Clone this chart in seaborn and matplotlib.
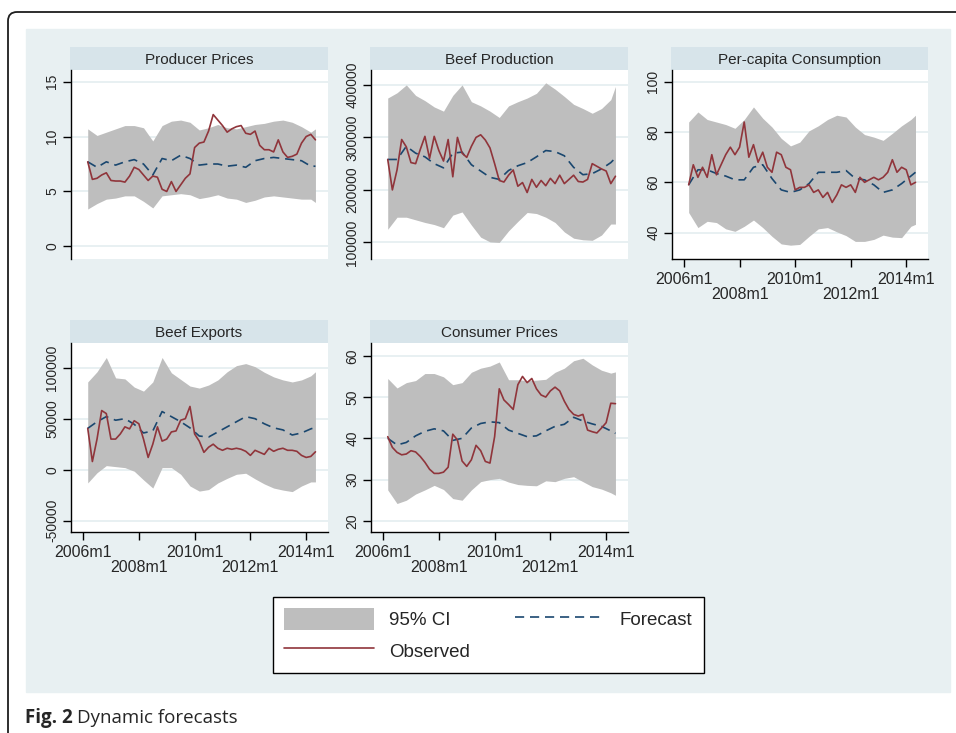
import numpy as np
import matplotlib
matplotlib.use('Agg')
import matplotlib.pyplot as plt
import seaborn as sns
from matplotlib.patches import Patch, Rectangle, FancyBboxPatch
from matplotlib.lines import Line2D
from matplotlib.transforms import IdentityTransform

sns.set_style('white')
plt.rcParams['font.family'] = ['Liberation Sans', 'DejaVu Sans']

# x positions: months since 2006m1
months_obs = np.arange(2, 101, 2)
months_fc = np.r_[np.arange(2, 99, 4), 100]
xtick_pos = [0, 24, 48, 72, 96]
xtick_labels = ['2006m1', '\n2008m1', '2010m1', '\n2012m1', '2014m1']

# Producer Prices
pp_obs = [7.7, 6.1, 6.2, 6.5, 6.7, 6.0, 5.95, 5.95, 5.85, 6.4,
          7.2, 7.0, 6.5, 6.0, 6.4, 6.3, 5.2, 5.0, 5.9, 5.0,
          5.6, 6.2, 6.6, 9.0, 9.4, 9.5, 10.5, 12.0, 11.5, 11.0,
          10.4, 10.7, 10.9, 11.0, 10.3, 10.2, 10.5, 9.2, 8.8, 8.8,
          8.6, 9.7, 8.6, 8.1, 8.2, 8.4, 9.4, 10.0, 10.2, 9.7]
pp_fc = [7.7, 7.2, 7.7, 7.4, 7.7, 7.9, 7.5, 6.5, 8.0, 7.8, 8.3, 8.0, 7.4,
         7.5, 7.5, 7.3, 7.4, 7.2, 7.8, 8.0, 8.1, 8.0, 7.9, 7.8, 7.3, 7.3]
pp_hi = [10.7, 10.1, 10.4, 10.7, 11.0, 11.0, 10.8, 9.6, 11.0, 11.4, 11.5, 11.3, 10.6,
         10.8, 11.1, 10.8, 10.7, 10.9, 11.1, 11.2, 11.4, 11.5, 11.3, 10.9, 10.4, 10.7]
pp_lo = [3.4, 3.9, 4.3, 4.4, 4.6, 4.6, 4.1, 3.5, 4.6, 4.7, 4.8, 4.7, 4.35,
         4.5, 4.7, 4.4, 4.3, 4.0, 4.2, 4.5, 4.6, 4.5, 4.4, 4.3, 4.3, 4.0]

# Beef Production (thousands)
bp_obs = [258, 200, 238, 296, 282, 252, 250, 277, 302, 260,
          302, 275, 255, 296, 225, 300, 270, 262, 283, 300,
          305, 295, 280, 250, 218, 215, 228, 238, 207, 214,
          195, 220, 205, 218, 208, 222, 212, 228, 212, 220,
          228, 216, 215, 220, 250, 245, 240, 236, 212, 226]
bp_fc = [258, 258, 283, 270, 263, 250, 242, 270, 272, 248, 236, 224, 220,
         237, 246, 252, 263, 275, 273, 265, 243, 229, 231, 240, 252, 261]
bp_hi = [375, 385, 400, 380, 370, 358, 350, 380, 400, 368, 360, 350, 338,
         360, 368, 375, 384, 404, 392, 378, 363, 355, 346, 355, 372, 397]
bp_lo = [125, 148, 148, 143, 138, 134, 128, 152, 158, 133, 110, 101, 100,
         122, 140, 157, 155, 148, 138, 120, 108, 105, 104, 114, 135, 135]

# Per-capita Consumption
pc_obs = [59, 67, 62, 66, 62, 71, 63, 67, 71, 74,
          71, 74, 84, 70, 75, 68, 72, 66, 64, 72,
          71, 66, 65, 57, 58, 58, 59, 56, 57, 54,
          56, 52, 55, 59, 58, 59, 56, 62, 60, 61,
          62, 61, 62, 64, 69, 64, 66, 65, 59, 60]
pc_fc = [59, 65, 65, 63.5, 62.5, 61, 61, 66, 67, 61.5, 57, 56, 57,
         59.5, 64, 64, 64, 64.7, 61.5, 61, 59, 56, 57, 59.5, 62.5, 64]
pc_hi = [84, 88, 85, 84, 83, 81.5, 85, 90, 85.5, 82, 77.5, 74.5, 76,
         80.5, 82.5, 85, 86.7, 86, 82, 79, 78, 76.7, 79.5, 82.5, 85, 86.7]
pc_lo = [48, 42, 44.5, 44, 41.5, 40.5, 42.5, 45, 42, 38.5, 35.5, 35, 35.3,
         38.5, 41.5, 42, 40.3, 38.8, 36.5, 36.5, 37.3, 39, 38.2, 38, 42.5, 43.3]

# Beef Exports (thousands)
be_obs = [40.5, 8, 30, 58, 55, 30, 30, 35, 42, 40,
          48, 45, 30, 12, 25, 42, 28, 30, 37, 38,
          48.5, 50, 62, 35, 28, 17, 22, 25, 21, 19,
          21, 20, 21, 20, 18, 14, 19, 17, 15, 21,
          18, 20, 21, 19, 19, 18, 14, 12, 13, 17.5]
be_fc = [40.5, 47, 52, 48.5, 50, 44.5, 36, 38, 57, 52, 47, 41, 33,
         32, 37, 42, 47, 52, 50, 45, 41, 39, 34, 36, 40, 41.5]
be_hi = [86, 96, 110, 90, 89, 81, 77, 86, 110, 95, 88.5, 82, 80,
         83, 88, 96, 102, 104, 101, 95.5, 91, 88, 86, 88, 92, 96]
be_lo = [-13, -3, 4, 3, 2, -1.5, -10, -18, 2, 2, -4.5, -16, -21,
         -19.5, -13, -8.5, -4.5, -3.5, -9, -14, -18, -20, -21.5, -16, -12, -12]

# Consumer Prices
cp_obs = [40.4, 37.8, 36.6, 36.0, 36.2, 37.0, 36.7, 35.6, 34.2, 32.5,
          31.5, 31.5, 31.8, 33.0, 41.0, 39.6, 34.5, 33.2, 34.8, 38.3,
          37.0, 34.4, 34.0, 40.4, 52.0, 49.3, 48.2, 47.0, 53.0, 55.0,
          53.5, 54.5, 52.0, 50.5, 50.0, 51.5, 52.4, 51.5, 49.0, 47.0,
          45.8, 45.4, 45.8, 42.0, 41.6, 41.3, 42.5, 43.8, 48.5, 48.4]
cp_fc = [40, 38.4, 39.0, 40.6, 41.7, 42.3, 41.8, 39.5, 40.0, 42.5, 43.6, 44, 43.8,
         42, 41.2, 40.4, 40.6, 41.8, 42.9, 43.4, 45.1, 44.2, 43.5, 42.9, 41.8, 41.2]
cp_hi = [54.5, 52.2, 53.5, 54, 55.7, 55.7, 54.9, 53, 53.5, 56, 57, 57.5, 58.5,
         54.2, 54.2, 54, 54.1, 54.3, 56, 57, 58.8, 59.4, 57.8, 56.5, 55.8, 56.1]
cp_lo = [27.5, 24.2, 25, 26.5, 27.5, 28.6, 27.6, 25.4, 25, 27.5, 29.5, 30, 30.3,
         29.4, 28.8, 28.6, 28.5, 29.7, 29.5, 30.3, 30.7, 29.5, 28.3, 27.7, 26.8, 26.2]

K = 1000  # thousands -> units
panels = [
    ('Producer Prices', pp_obs, pp_fc, pp_lo, pp_hi, 1, (-1.15, 16.06), [0, 5, 10, 15]),
    ('Beef Production', bp_obs, bp_fc, bp_lo, bp_hi, K, (68400, 428400), [100000, 200000, 300000, 400000]),
    ('Per-capita Consumption', pc_obs, pc_fc, pc_lo, pc_hi, 1, (29.5, 104.7), [40, 60, 80, 100]),
    ('Beef Exports', be_obs, be_fc, be_lo, be_hi, K, (-61100, 124200), [-50000, 0, 50000, 100000]),
    ('Consumer Prices', cp_obs, cp_fc, cp_lo, cp_hi, 1, (17.3, 63.1), [20, 30, 40, 50, 60]),
]

BG = '#e8f0f2'
STRIP = '#d7e4ea'
GRID = '#e4edf0'
CI_COL = '#bebebe'
OBS_COL = '#90353b'
FC_COL = '#1a476f'

W, H = 956, 733
fig = plt.figure(figsize=(W / 100, H / 100), dpi=100)
fig.patch.set_facecolor('white')


def frac(l, t, r, b):
    return [l / W, 1 - b / H, (r - l) / W, (b - t) / H]


fig.add_artist(Rectangle((26 / W, 1 - 692 / H), (950 - 26) / W, (692 - 29) / H,
                         transform=fig.transFigure, color=BG, zorder=0))
fig.add_artist(FancyBboxPatch((8, -60), 1200, H - 12 + 60,
                              boxstyle='round,pad=0,rounding_size=9',
                              transform=IdentityTransform(), fill=False,
                              lw=1.3, ec='#1e1e1e'))

slots = [(71, 328, 70, 259), (371, 628, 70, 259), (672, 928, 70, 259),
         (71, 328, 343, 532), (371, 628, 343, 532)]

for i, (title, obs, fc, lo, hi, scale, ylim, yticks) in enumerate(panels):
    l, r, t, b = slots[i]
    strip = fig.add_axes(frac(l - 1, t - 23, r, t))
    strip.set_facecolor(STRIP)
    strip.set_xticks([])
    strip.set_yticks([])
    for s in strip.spines.values():
        s.set_visible(False)
    strip.text(0.5, 0.45, title, ha='center', va='center', fontsize=11,
               transform=strip.transAxes)

    ax = fig.add_axes(frac(l, t, r, b))
    ax.set_facecolor('white')
    ax.fill_between(months_fc, np.array(lo) * scale, np.array(hi) * scale,
                    color=CI_COL, lw=0, zorder=1)
    sns.lineplot(x=months_fc, y=np.array(fc) * scale, ax=ax, color=FC_COL,
                 lw=1.2, linestyle=(0, (5.5, 3.5)), zorder=3)
    sns.lineplot(x=months_obs, y=np.array(obs) * scale, ax=ax, color=OBS_COL,
                 lw=1.2, zorder=4)

    ax.set_xlim(-5.2, 105.4)
    ax.set_ylim(*ylim)
    ax.set_yticks(yticks)
    ax.set_yticklabels([str(v) for v in yticks], rotation=90, va='center')
    ax.grid(axis='y', color=GRID, lw=1.2)
    ax.grid(axis='x', visible=False)
    ax.set_axisbelow(True)
    ax.set_xlabel('')
    ax.set_ylabel('')
    for s in ['top', 'right']:
        ax.spines[s].set_visible(False)
    ax.spines['left'].set_color('black')
    ax.spines['left'].set_linewidth(1.0)
    ax.tick_params(axis='y', direction='out', length=6, width=1, color='black',
                   labelsize=10, pad=2.5, left=True)

    if i in (0, 1):
        ax.spines['bottom'].set_visible(False)
        ax.set_xticks([])
    else:
        ax.spines['bottom'].set_color('black')
        ax.spines['bottom'].set_linewidth(1.0)
        ax.set_xticks(xtick_pos)
        ax.set_xticklabels(xtick_labels)
        ax.tick_params(axis='x', direction='out', length=6, width=1, color='black',
                       labelsize=11.5, pad=3.5, bottom=True)
        for lbl in ax.get_xticklabels():
            lbl.set_linespacing(0.95)

handles = [Patch(facecolor=CI_COL, edgecolor='none'),
           Line2D([], [], color=OBS_COL, lw=1.2),
           Line2D([], [], color=FC_COL, lw=1.2, linestyle=(0, (5.5, 3.5)))]
labels = ['95% CI', 'Observed', 'Forecast']
leg = fig.legend(handles, labels, ncol=2, loc='center',
                 bbox_to_anchor=(488 / W, 1 - 635 / H), frameon=True,
                 fancybox=False, edgecolor='black', framealpha=1,
                 handlelength=4.8, handleheight=1.45, handletextpad=0.8,
                 columnspacing=2.4, labelspacing=0.5, borderpad=0.6,
                 fontsize=13.5)
leg.get_frame().set_linewidth(1.0)

t1 = fig.text(25 / W, 1 - 723 / H, 'Fig. 2', family='Open Sans',
              fontweight='bold', fontsize=13.5, va='baseline')
renderer = fig.canvas.get_renderer()
bb = t1.get_window_extent(renderer)
fig.text(bb.x1 / W + 4 / W, 1 - 723 / H, 'Dynamic forecasts', family='Open Sans',
         fontsize=13.5, va='baseline')

fig.savefig('out.png', dpi=100)
